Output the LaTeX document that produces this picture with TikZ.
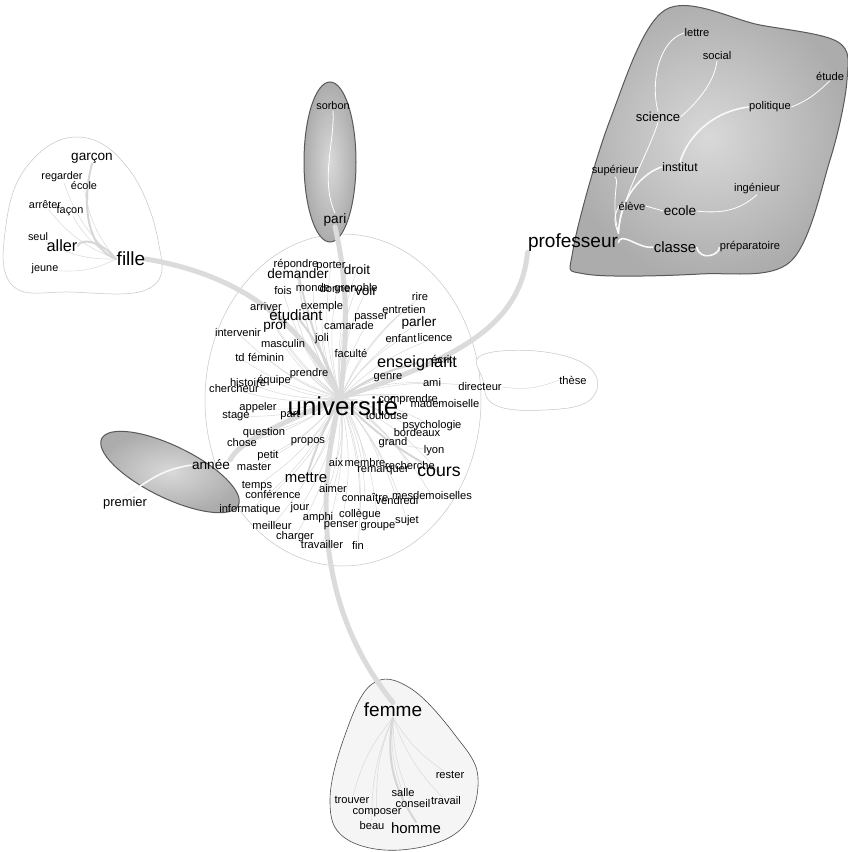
\documentclass[tikz,border=0pt]{standalone}
\usepackage{fontspec}
\setmainfont{Liberation Sans}
\pgfdeclarelayer{back}
\pgfdeclarelayer{hull}
\pgfdeclarelayer{bg}
\pgfsetlayers{back,hull,bg,main}
\begin{document}
\begin{tikzpicture}[x=1pt,y=-1pt,
  w/.style={font=\fontsize{\fpeval{1.36*#1}}{\fpeval{1.4*#1}}\selectfont, inner sep=0.3pt, text=black},
  thinedge/.style={draw=gray!30, line width=0.5pt},
  thickedge/.style={draw=gray!28, line width=5pt, line cap=round},
  midedge/.style={draw=gray!32, line width=2pt, line cap=round},
  whiteedge/.style={draw=white, line width=0.8pt},
  whitethick/.style={draw=white!95!gray, line width=1.6pt},
  lighthull/.style={draw=gray!45, line width=0.5pt, fill=white},
  femhull/.style={draw=black!70, line width=0.6pt, fill=gray!8},
  darkhull/.style={draw=black!65, line width=1pt, inner color=gray!30, outer color=gray!65}]
\useasboundingbox (0,0) rectangle (847,852);
\begin{pgfonlayer}{back}
\fill[white] (0,0) rectangle (847,852);
\end{pgfonlayer}

% ---------- words ----------
\foreach \n/\x/\y/\s/\t in {
 garcon/92/158/10/garçon, regarder/62/177/8/regarder, ecolea/84/186/8/école,
 arreter/45/205/8/arrêter, facon/70/211/8/façon, seul/38/237/8/seul,
 aller/62/246/12/aller, fille/131/259/14/fille, jeune/45/269/8/jeune,
 lettre/697/33/8.2/lettre, social/717/56/8.2/social, etude/830/76/8.2/étude,
 science/658/117/9.6/science, politique/770/107/8.2/politique,
 superieur/615/171/8.2/supérieur, institut/680/167/9/institut,
 ingenieur/757/189/8.2/ingénieur, eleve/632/206/8.2/élève, ecoleb/680/211/10/ecole,
 professeur/573/243/14/professeur, classe/675/247/11/classe,
 preparatoire/750/247/8.2/préparatoire,
 sorbon/333/106/8/sorbon, pari/335/220/10/pari,
 annee/211/465/10/année, premier/125/503/9.5/premier,
 these/573/380/8.2/thèse,
 femme/393/710/14/femme, rester/450/775/8.2/rester, salle/403/793/8.2/salle,
 trouver/352/800/8.2/trouver, conseil/413/804/8.2/conseil, travail/446/801/8.2/travail,
 composer/377/813/8.2/composer, beau/372/826/8.2/beau, homme/416/828/11/homme,
 repondre/296/265/8.2/répondre, porter/331/266/8.2/porter, droit/357/270/10/droit,
 demander/298/274/10/demander,
 fois/283/291/8.2/fois, monde/313/288/8.2/monde, donner/337/289/8.2/donner,
 grenoble/356/289/8.2/grenoble, voir/366/291/10/voir,
 rire/420/297/8.2/rire, arriver/266/307/8.2/arriver, exemple/322/307/8.2/exemple,
 entretien/404/310/8.2/entretien, etudiant/296/315/11/étudiant,
 passer/371/318/8.2/passer, parler/419/323/10/parler,
 intervenir/238/333/8.2/intervenir, prof/275/326/10/prof, camarade/349/326/8.2/camarade,
 joli/322/339/8.2/joli, masculin/283/344/8.2/masculin, enfant/401/339/8.2/enfant,
 licence/435/338/8.2/licence, td/240/358/8.2/td, feminin/266/357/8.2/féminin,
 faculte/351/353/8.2/faculté, enseignant/417/363/12/enseignant, ecrit/442/359/8.2/écrit,
 prendre/309/374/8.2/prendre, genre/388/378/8.2/genre,
 histoire/248/383/8.2/histoire, equipe/274/381/8.2/équipe,
 chercheur/234/389/8.2/chercheur, ami/432/383/8.2/ami, directeur/480/387/8.2/directeur,
 comprendre/408/400/8.2/comprendre, mademoiselle/445/404/8.2/mademoiselle,
 appeler/258/408/8.2/appeler, stage/236/416/8.2/stage, part/290/415/8.2/part,
 toulouse/387/416/8.2/toulouse, psychologie/432/426/8.2/psychologie,
 bordeaux/417/433/8.2/bordeaux, question/264/433/8.2/question, chose/242/443/8.2/chose,
 propos/308/442/8.2/propos, grand/393/443/8.2/grand, lyon/434/451/8.2/lyon,
 petit/268/456/8.2/petit, master/254/467/8.2/master,
 aix/336/463/8.2/aix, membre/365/463/8.2/membre, remarquer/383/471/8.2/remarquer,
 recherche/410/466/8.2/recherche, cours/439/472/13/cours,
 temps/257/486/8.2/temps, mettre/306/478/11/mettre, aimer/333/489/8.2/aimer,
 conference/273/494/8.2/conférence, connaitre/365/497/8.2/connaître,
 vendredi/397/501/8.2/vendredi, mesdemoiselles/432/496/8.2/mesdemoiselles,
 informatique/250/510/8.2/informatique, jour/300/508/8.2/jour, amphi/318/518/8.2/amphi,
 collegue/360/515/8.2/collègue, sujet/407/521/8.2/sujet,
 meilleur/272/526/8.2/meilleur, penser/341/526/8.2/penser, groupe/378/527/8.2/groupe,
 charger/295/537/8.2/charger, travailler/322/545/8.2/travailler, fin/358/545/8.2/fin}
 { \node[w=\s] (\n) at (\x,\y) {\t}; }
\node[w=19] (universite) at (343,406) {université};
\coordinate (uc) at (340,398);

% ---------- hulls ----------
\begin{pgfonlayer}{hull}
\draw[lighthull] (343,400) ellipse[x radius=138, y radius=166];
\draw[lighthull] plot[smooth cycle, tension=0.7] coordinates
 {(78,137) (128,168) (158,240) (150,288) (70,292) (12,285) (6,225) (28,165)};
\draw[lighthull] plot[smooth cycle, tension=0.7] coordinates
 {(482,355) (545,352) (592,370) (590,400) (545,410) (495,405) (483,380)};
\draw[darkhull] plot[smooth cycle, tension=0.55] coordinates
 {(665,10) (760,25) (838,42) (847,80) (830,160) (790,262) (700,274) (585,274) (573,250) (610,120)};
\draw[darkhull] (330,162) ellipse[x radius=26, y radius=80];
\draw[darkhull, rotate around={-26:(170,472)}] (170,472) ellipse[x radius=76, y radius=26];
\draw[femhull] plot[smooth cycle, tension=0.65] coordinates
 {(372,684) (410,688) (455,735) (478,778) (460,830) (400,850) (345,838) (330,800) (345,735)};
\end{pgfonlayer}

% ---------- edges ----------
\begin{pgfonlayer}{bg}
\foreach \n in {repondre,porter,droit,demander,fois,monde,donner,grenoble,voir,rire,
 arriver,exemple,entretien,etudiant,passer,parler,intervenir,prof,camarade,joli,
 masculin,enfant,licence,td,feminin,faculte,enseignant,ecrit,prendre,genre,histoire,
 equipe,chercheur,ami,directeur,comprendre,mademoiselle,appeler,stage,part,toulouse,
 psychologie,bordeaux,question,chose,propos,grand,aix,membre,remarquer,recherche,
 cours,temps,mettre,aimer,conference,connaitre,vendredi,mesdemoiselles,informatique,
 jour,amphi,collegue,sujet,meilleur,penser,groupe,charger,travailler,fin,petit,master}
 { \draw[thinedge] (uc) to[bend left=12] (\n.center); }
\draw[midedge] (uc) to[bend right=10] (etudiant.center);
\draw[midedge] (uc) to[bend left=10] (enseignant.center);
\draw[midedge] (uc) to[bend right=8] (cours.center);
\draw[midedge] (uc) to[bend left=5] (demander.center);
\draw[midedge] (uc) to[bend right=5] (mettre.center);
\draw[thinedge] (grand) -- (lyon);
\draw[thinedge] (directeur.east) to[bend right=15] (these.west);
% thick connectors
\draw[thickedge] (uc) .. controls (300,320) and (240,275) .. (fille.east);
\draw[thickedge] (uc) .. controls (450,360) and (520,330) .. (professeur.south west);
\draw[thickedge] (uc) .. controls (320,480) and (310,600) .. (femme.north);
\draw[thickedge] (uc) .. controls (350,320) and (345,270) .. (pari.south);
\draw[thickedge] (uc) .. controls (290,420) and (240,440) .. (annee.north east);
% fille cluster
\draw[midedge] (fille.west) .. controls (90,250) and (80,210) .. (garcon.south);
\draw[midedge] (fille.west) .. controls (100,240) and (80,238) .. (aller.east);
\foreach \n in {regarder,ecolea,arreter,facon,seul,jeune}
 { \draw[thinedge] (fille.west) to[bend left=15] (\n); }
% professeur cluster
\draw[whitethick] (professeur.east) .. controls (620,230) and (640,250) .. (classe.west);
\draw[whitethick] (classe.east) .. controls (700,262) and (720,255) .. (preparatoire.west);
\draw[whiteedge] (professeur.north east) .. controls (620,200) and (650,150) .. (science.south);
\draw[whiteedge] (science.north) .. controls (650,80) and (660,40) .. (lettre.west);
\draw[whiteedge] (science.east) .. controls (700,100) and (715,80) .. (social.south);
\draw[whiteedge] (professeur.north east) .. controls (610,200) and (620,180) .. (superieur.south);
\draw[whitethick] (professeur.north east) .. controls (620,190) and (650,170) .. (institut.west);
\draw[whitethick] (institut.north) .. controls (690,130) and (720,110) .. (politique.west);
\draw[whiteedge] (politique.east) .. controls (810,100) and (820,90) .. (etude.south);
\draw[whiteedge] (professeur.north east) .. controls (610,215) and (620,208) .. (eleve.west);
\draw[whiteedge] (eleve.east) -- (ecoleb.west);
\draw[whiteedge] (ecoleb.east) .. controls (730,215) and (745,205) .. (ingenieur.south);
% pari, annee
\draw[whiteedge] (pari.north) .. controls (320,180) and (335,140) .. (sorbon.south);
\draw[whitethick] (annee.west) .. controls (160,470) and (150,480) .. (premier.north);
% femme cluster
\draw[midedge] (femme.south) .. controls (385,760) and (395,790) .. (homme.north);
\foreach \n in {rester,salle,trouver,conseil,travail,composer,beau}
 { \draw[thinedge] (femme.south) to[bend right=12] (\n); }
\end{pgfonlayer}
\end{tikzpicture}
\end{document}
